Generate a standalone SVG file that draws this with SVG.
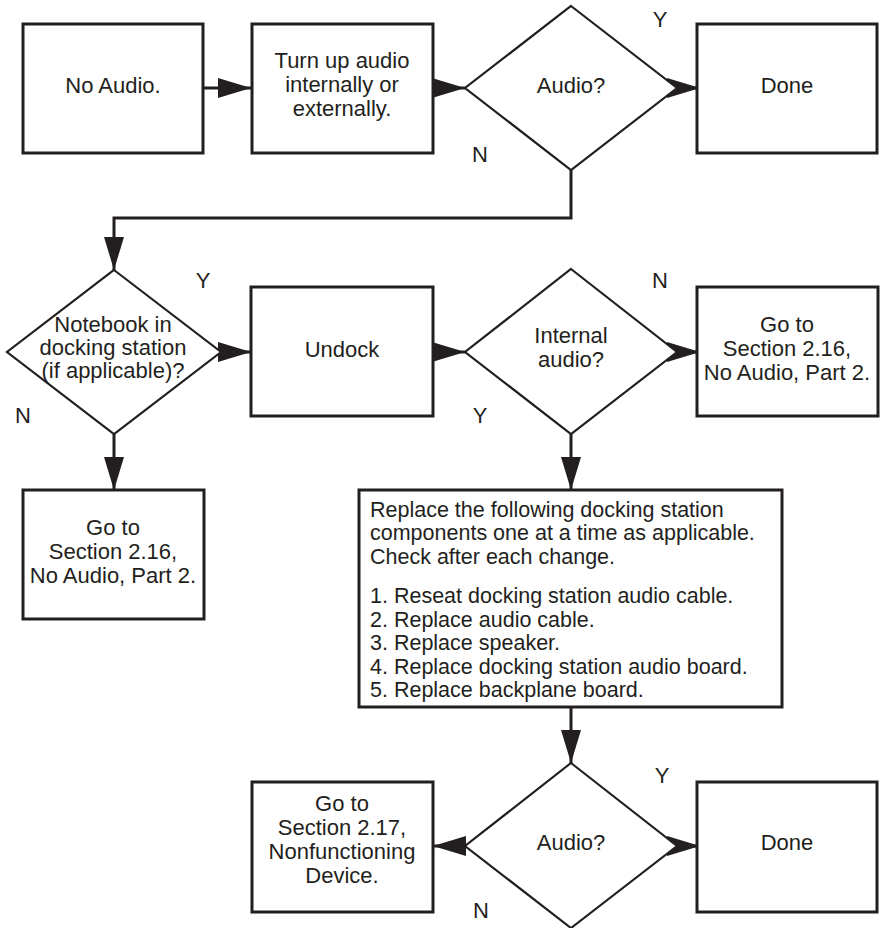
<svg xmlns="http://www.w3.org/2000/svg" width="882" height="928" viewBox="0 0 882 928">
<style>
  .box { fill: #ffffff; stroke: #231f20; stroke-width: 3; }
  .dia { fill: #ffffff; stroke: #231f20; stroke-width: 2.2; stroke-linejoin: miter; }
  .t { font-family: "Liberation Sans", Arial, sans-serif; font-size: 22px; fill: #231f20; text-anchor: middle; }
  .tl { text-anchor: start; font-size: 21.5px; }
  .edge { fill: none; stroke: #231f20; stroke-width: 3; }
</style>
<defs>
  <marker id="arr" viewBox="0 0 33 20" refX="33" refY="10" markerWidth="33" markerHeight="20" markerUnits="userSpaceOnUse" orient="auto">
    <path d="M0,0 L33,10 L0,20 Z" fill="#231f20"/>
  </marker>
</defs>
<rect width="882" height="928" fill="#ffffff"/>

<g id="connectors">
  <path class="edge" d="M204,88 L251,88" marker-end="url(#arr)"/>
  <path class="edge" d="M433,88 L465,88" marker-end="url(#arr)"/>
  <path class="edge" d="M671,88 L700,88" marker-end="url(#arr)"/>
  <path class="edge" d="M571,170 L571,218 L114,218 L114,270" marker-end="url(#arr)"/>
  <path class="edge" d="M217,352 L251,352" marker-end="url(#arr)"/>
  <path class="edge" d="M433,352 L465,352" marker-end="url(#arr)"/>
  <path class="edge" d="M671,352 L700,352" marker-end="url(#arr)"/>
  <path class="edge" d="M114,434 L114,490" marker-end="url(#arr)"/>
  <path class="edge" d="M571,434 L571,490" marker-end="url(#arr)"/>
  <path class="edge" d="M571,707 L571,763" marker-end="url(#arr)"/>
  <path class="edge" d="M465,846 L433,846" marker-end="url(#arr)"/>
  <path class="edge" d="M671,846 L700,846" marker-end="url(#arr)"/>
</g>

<g id="no-audio">
  <rect class="box" x="23" y="24" width="180" height="129"/>
  <text class="t" x="113" y="93">No Audio.</text>
</g>

<g id="turn-up">
  <rect class="box" x="252" y="24" width="181" height="129"/>
  <text class="t" x="342" y="68">Turn up audio</text>
  <text class="t" x="342" y="92">internally or</text>
  <text class="t" x="342" y="116">externally.</text>
</g>

<g id="audio1">
  <polygon class="dia" points="571,6 677,88 571,170 465,88"/>
  <text class="t" x="571" y="93">Audio?</text>
  <text class="t" x="660" y="27">Y</text>
  <text class="t" x="480" y="162">N</text>
</g>

<g id="done1">
  <rect class="box" x="697" y="24" width="180" height="129"/>
  <text class="t" x="787" y="93">Done</text>
</g>

<g id="notebook">
  <polygon class="dia" points="114,270 221,352 114,434 7,352"/>
  <text class="t" x="113" y="332">Notebook in</text>
  <text class="t" x="113" y="355">docking station</text>
  <text class="t" x="113" y="378">(if applicable)?</text>
  <text class="t" x="203" y="288">Y</text>
  <text class="t" x="23" y="423">N</text>
</g>

<g id="undock">
  <rect class="box" x="251" y="287" width="182" height="129"/>
  <text class="t" x="342" y="357">Undock</text>
</g>

<g id="internal">
  <polygon class="dia" points="571,269 677,352 571,434 465,352"/>
  <text class="t" x="571" y="343">Internal</text>
  <text class="t" x="571" y="367">audio?</text>
  <text class="t" x="660" y="288">N</text>
  <text class="t" x="480" y="423">Y</text>
</g>

<g id="goto216-right">
  <rect class="box" x="697" y="287" width="181" height="129"/>
  <text class="t" x="787" y="332">Go to</text>
  <text class="t" x="787" y="356">Section 2.16,</text>
  <text class="t" x="787" y="380">No Audio, Part 2.</text>
</g>

<g id="goto216-left">
  <rect class="box" x="23" y="490" width="181" height="129"/>
  <text class="t" x="113" y="535">Go to</text>
  <text class="t" x="113" y="559">Section 2.16,</text>
  <text class="t" x="113" y="583">No Audio, Part 2.</text>
</g>

<g id="replace">
  <rect class="box" x="359" y="490" width="423" height="217"/>
  <text class="t tl" x="370" y="517">Replace the following docking station</text>
  <text class="t tl" x="370" y="540">components one at a time as applicable.</text>
  <text class="t tl" x="370" y="564">Check after each change.</text>
  <text class="t tl" x="370" y="603">1. Reseat docking station audio cable.</text>
  <text class="t tl" x="370" y="627">2. Replace audio cable.</text>
  <text class="t tl" x="370" y="650">3. Replace speaker.</text>
  <text class="t tl" x="370" y="674">4. Replace docking station audio board.</text>
  <text class="t tl" x="370" y="697">5. Replace backplane board.</text>
</g>

<g id="audio2">
  <polygon class="dia" points="571,763 677,846 571,928 465,846"/>
  <text class="t" x="571" y="850">Audio?</text>
  <text class="t" x="662" y="783">Y</text>
  <text class="t" x="481" y="918">N</text>
</g>

<g id="goto217">
  <rect class="box" x="252" y="782" width="181" height="130"/>
  <text class="t" x="342" y="811">Go to</text>
  <text class="t" x="342" y="835">Section 2.17,</text>
  <text class="t" x="342" y="859">Nonfunctioning</text>
  <text class="t" x="342" y="883">Device.</text>
</g>

<g id="done2">
  <rect class="box" x="697" y="782" width="180" height="130"/>
  <text class="t" x="787" y="850">Done</text>
</g>
</svg>
